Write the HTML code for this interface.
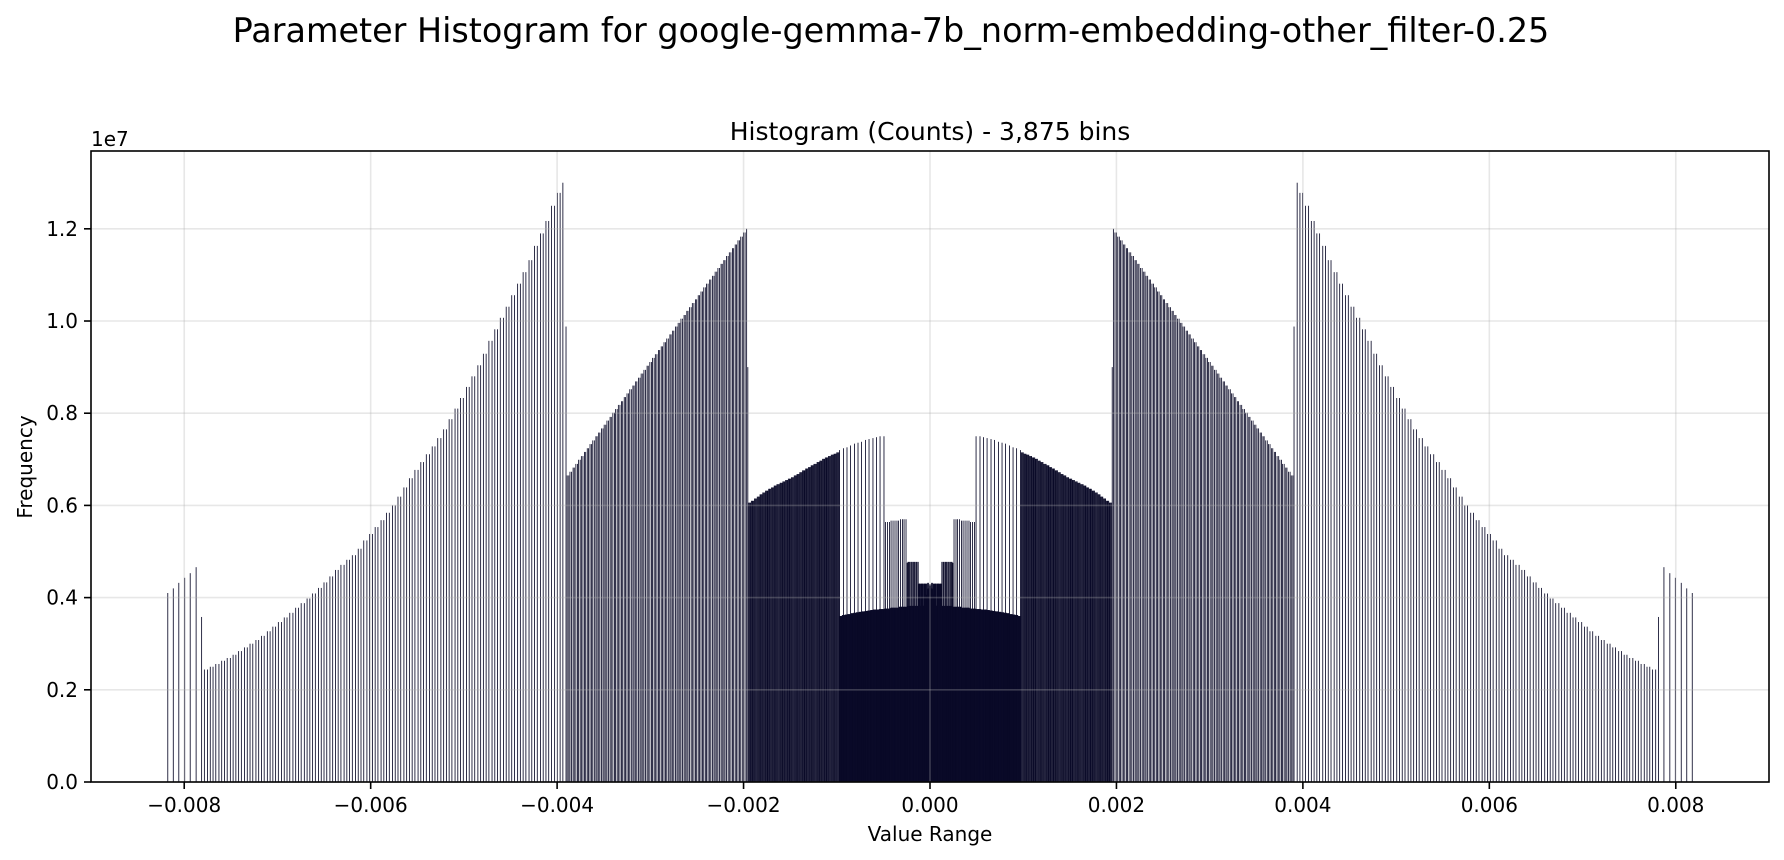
<!DOCTYPE html>
<html><head><meta charset="utf-8"><style>
html,body{margin:0;padding:0;background:#fff;}
svg{display:block;font-family:"DejaVu Sans","Liberation Sans",sans-serif;}
</style></head><body>
<svg id="chart" width="1784" height="860" viewBox="0 0 1784 860" xmlns="http://www.w3.org/2000/svg">
<defs><clipPath id="plotclip"><rect x="91" y="151" width="1678" height="631"/></clipPath></defs>
<rect x="0" y="0" width="1784" height="860" fill="#fff"/>
<text x="891" y="42" font-size="33.4" text-anchor="middle" fill="#000">Parameter Histogram for google-gemma-7b_norm-embedding-other_filter-0.25</text>
<text x="930" y="140" font-size="25" text-anchor="middle" fill="#000">Histogram (Counts) - 3,875 bins</text>
<g id="bars" clip-path="url(#plotclip)"></g>
<g id="grid"></g>
<rect x="91" y="151" width="1678" height="631" fill="none" stroke="#000" stroke-width="1.6"/>
<g id="xticks"></g>
<g id="yticks"></g>
<text x="91" y="146" font-size="20" fill="#000">1e7</text>
<text x="930" y="841" font-size="20" text-anchor="middle" fill="#000">Value Range</text>
<text x="0" y="0" font-size="20" text-anchor="middle" fill="#000" transform="translate(32,467) rotate(-90)">Frequency</text>
</svg>
<script>
// counts per bf16 value (units 1e6), values in units of 1e-3
const boundaryValues = [7.8125, 3.90625, 1.953125];
const boundaryCounts = [3.58, 9.88, 9.0];
const o0Counts = [4.66, 4.53, 4.43, 4.32, 4.20, 4.10];
const o1Counts = [13.0,12.78,12.5,12.17,11.9,11.63,11.32,11.06,10.81,10.56,10.31,10.07,9.82,9.57,9.29,9.04,8.8,8.57,8.33,8.1,7.87,7.65,7.46,7.28,7.11,6.94,6.77,6.59,6.39,6.19,6.0,5.84,5.68,5.53,5.38,5.24,5.06,4.92,4.82,4.71,4.6,4.46,4.33,4.21,4.09,3.98,3.88,3.78,3.67,3.57,3.47,3.37,3.27,3.17,3.08,3.0,2.92,2.84,2.76,2.69,2.63,2.56,2.5,2.44];
const o2Counts = [12.00,11.92,11.83,11.75,11.66,11.58,11.49,11.41,11.32,11.24,11.15,11.07,10.98,10.90,10.81,10.73,10.64,10.56,10.47,10.39,10.30,10.22,10.13,10.05,9.96,9.88,9.79,9.71,9.62,9.54,9.45,9.37,9.28,9.20,9.11,9.03,8.94,8.86,8.77,8.69,8.60,8.52,8.43,8.35,8.26,8.18,8.09,8.01,7.92,7.84,7.75,7.67,7.58,7.50,7.41,7.33,7.24,7.16,7.07,6.99,6.90,6.82,6.73,6.65];
const o3Counts = [7.15,7.12,7.10,7.07,7.04,7.01,6.97,6.94,6.90,6.87,6.83,6.80,6.76,6.72,6.68,6.65,6.61,6.58,6.55,6.52,6.49,6.46,6.43,6.39,6.36,6.32,6.28,6.24,6.19,6.15,6.10,6.06];
const o4Counts = [3.75,3.75,3.74,3.74,3.73,3.72,3.71,3.70,3.69,3.68,3.67,3.66,3.64,3.63,3.62,3.60];
const o5Counts = [1.90,1.90,1.90,1.89,1.89,1.89,1.88,1.88];
const o6Counts = [0.955,0.955,0.955,0.955];
const deepCounts = [0.478,0.239,0.12,0.06,0.03,0.015];
const zeroCount = 0.3;
const xTickValues = [-0.008,-0.006,-0.004,-0.002,0,0.002,0.004,0.006,0.008];
const xTickLabels = ["\u22120.008","\u22120.006","\u22120.004","\u22120.002","0.000","0.002","0.004","0.006","0.008"];
const yTickValues = [0,0.2,0.4,0.6,0.8,1.0,1.2];
const yTickLabels = ["0.0","0.2","0.4","0.6","0.8","1.0","1.2"];

const NS = "http://www.w3.org/2000/svg";
const L = 91, R = 1769, T = 151, B = 782;
const XMIN = -9, XMAX = 9, YMAX = 1.3688;
function X(v) { return L + (v - XMIN) / (XMAX - XMIN) * (R - L); }
function Y(h) { return B - h / YMAX * (B - T); }

const vals = [], cnts = [];
boundaryValues.forEach((v, i) => { vals.push(v); cnts.push(boundaryCounts[i]); });
o0Counts.forEach((c, i) => { vals.push(7.8125 * (1 + (i + 1) / 128)); cnts.push(c); });
function addOctave(base, arr, startK) {
  const per = 128 / arr.length;
  for (let k = startK; k < 128; k++) { vals.push(base * (1 + k / 128)); cnts.push(arr[Math.floor(k / per)]); }
}
addOctave(3.90625, o1Counts, 1);
addOctave(1.953125, o2Counts, 1);
addOctave(0.9765625, o3Counts, 0);
addOctave(0.48828125, o4Counts, 0);
addOctave(0.244140625, o5Counts, 0);
addOctave(0.1220703125, o6Counts, 0);
let base = 0.06103515625;
deepCounts.forEach(c => { addOctave(base, [c], 0); base /= 2; });

const NB = 3875;
let M = 0; vals.forEach(v => { if (v > M) M = v; });
const bw = 2 * M / NB;
const hist = new Array(NB).fill(0);
function addVal(v, c) { let i = Math.floor((v + M) / bw); if (i >= NB) i = NB - 1; if (i < 0) i = 0; hist[i] += c; }
vals.forEach((v, i) => { addVal(v, cnts[i]); addVal(-v, cnts[i]); });
addVal(0, zeroCount);

const barsG = document.getElementById('bars');
const bpx = X(bw) - X(0);
for (let i = 0; i < NB; i++) {
  const h = hist[i] / 10; // 1e6 -> 1e7 units
  if (h <= 0) continue;
  const r = document.createElementNS(NS, 'rect');
  const x0 = X(-M + i * bw);
  r.setAttribute('x', (x0 - 0.2).toFixed(2));
  r.setAttribute('y', Y(h).toFixed(2));
  r.setAttribute('width', (bpx + 0.45).toFixed(2));
  r.setAttribute('height', (B - Y(h)).toFixed(2));
  r.setAttribute('fill', '#0a0a28');
  
  
  barsG.appendChild(r);
}

const gridG = document.getElementById('grid');
const xt = document.getElementById('xticks');
const yt = document.getElementById('yticks');
xTickValues.forEach((v, i) => {
  const x = X(v * 1000);
  const gl = document.createElementNS(NS, 'line');
  gl.setAttribute('x1', x); gl.setAttribute('x2', x); gl.setAttribute('y1', T); gl.setAttribute('y2', B);
  gl.setAttribute('stroke', '#b0b0b0'); gl.setAttribute('stroke-opacity', '0.3'); gl.setAttribute('stroke-width', '1.6');
  
  
  gridG.appendChild(gl);
  const tk = document.createElementNS(NS, 'line');
  tk.setAttribute('x1', x); tk.setAttribute('x2', x); tk.setAttribute('y1', B); tk.setAttribute('y2', B + 7);
  tk.setAttribute('stroke', '#000'); tk.setAttribute('stroke-width', '1.6');
  
  
  xt.appendChild(tk);
  const tx = document.createElementNS(NS, 'text');
  tx.setAttribute('x', x); tx.setAttribute('y', B + 30); tx.setAttribute('font-size', '20'); tx.setAttribute('text-anchor', 'middle');
  tx.textContent = xTickLabels[i];
  
  
  xt.appendChild(tx);
});
yTickValues.forEach((v, i) => {
  const y = Y(v);
  const gl = document.createElementNS(NS, 'line');
  gl.setAttribute('x1', L); gl.setAttribute('x2', R); gl.setAttribute('y1', y); gl.setAttribute('y2', y);
  gl.setAttribute('stroke', '#b0b0b0'); gl.setAttribute('stroke-opacity', '0.3'); gl.setAttribute('stroke-width', '1.6');
  
  
  gridG.appendChild(gl);
  const tk = document.createElementNS(NS, 'line');
  tk.setAttribute('x1', L - 7); tk.setAttribute('x2', L); tk.setAttribute('y1', y); tk.setAttribute('y2', y);
  tk.setAttribute('stroke', '#000'); tk.setAttribute('stroke-width', '1.6');
  
  
  yt.appendChild(tk);
  const tx = document.createElementNS(NS, 'text');
  tx.setAttribute('x', L - 13); tx.setAttribute('y', y + 7); tx.setAttribute('font-size', '20'); tx.setAttribute('text-anchor', 'end');
  tx.textContent = yTickLabels[i];
  
  
  yt.appendChild(tx);
});
</script>
</body></html>
